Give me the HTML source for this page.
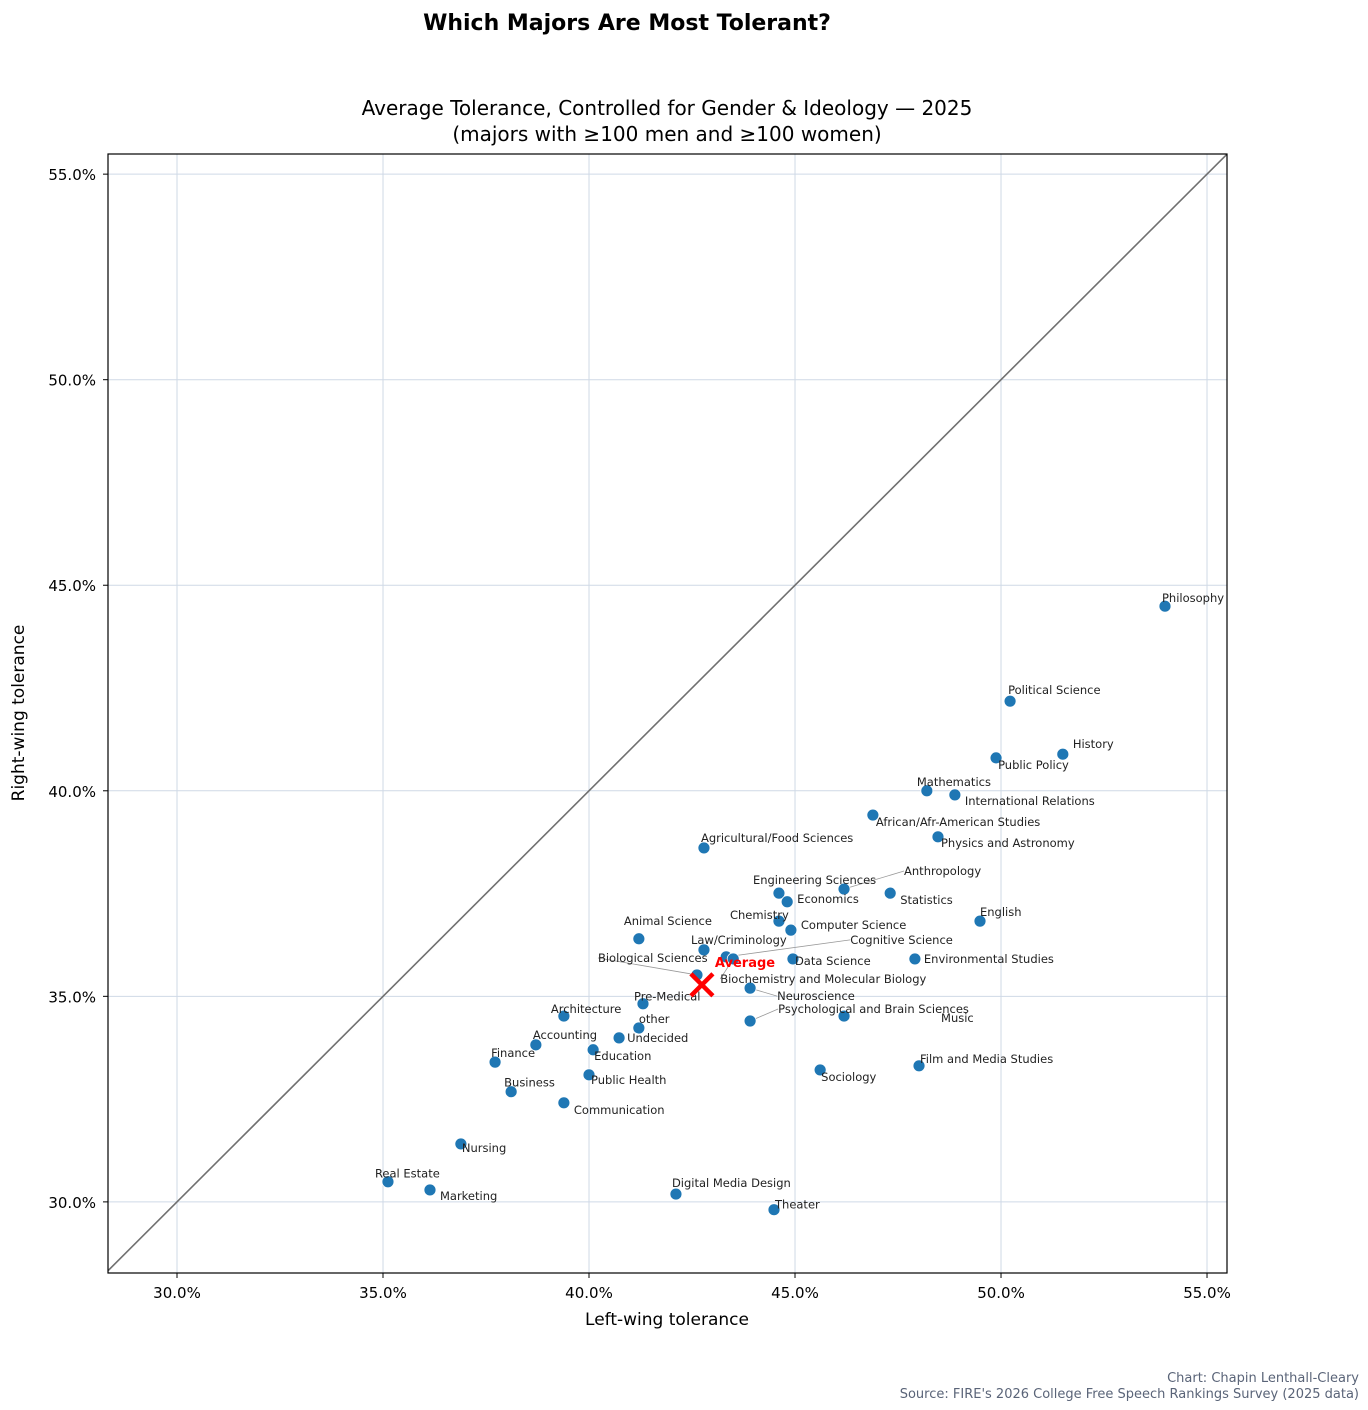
<!DOCTYPE html>
<html><head><meta charset="utf-8"><style>
body{margin:0;background:#fff;}
svg{display:block;font-family:"DejaVu Sans","Liberation Sans",sans-serif;}
</style></head><body>
<svg id="chart" width="1368" height="1410" viewBox="0 0 1368 1410">
<text x="627" y="30" text-anchor="middle" font-size="22" font-weight="bold">Which Majors Are Most Tolerant?</text>
<text x="667" y="115" text-anchor="middle" font-size="20">Average Tolerance, Controlled for Gender &amp; Ideology — 2025</text>
<text x="667" y="141" text-anchor="middle" font-size="20">(majors with ≥100 men and ≥100 women)</text>
<g id="grid"></g>
<g id="diag"></g>
<g id="leaders"></g>
<g id="points"></g>
<g id="labels"></g>
<rect x="108" y="154" width="1119" height="1119" fill="none" stroke="#000" stroke-width="1.2"/>
<g id="ticks"></g>
<text x="667" y="1325" text-anchor="middle" font-size="17">Left-wing tolerance</text>
<text x="24" y="713" text-anchor="middle" font-size="17" transform="rotate(-90 24 713)">Right-wing tolerance</text>
<text x="1359" y="1382" text-anchor="end" font-size="13" fill="#5a6478">Chart: Chapin Lenthall-Cleary</text>
<text x="1359" y="1398" text-anchor="end" font-size="13" fill="#5a6478">Source: FIRE's 2026 College Free Speech Rankings Survey (2025 data)</text>
</svg>
<script>
const majors=["Philosophy","Political Science","History","Public Policy","Mathematics","International Relations","African/Afr-American Studies","Physics and Astronomy","Agricultural/Food Sciences","Anthropology","Engineering Sciences","Statistics","Economics","English","Chemistry","Computer Science","Animal Science","Law/Criminology","Cognitive Science","Data Science","Environmental Studies","Biological Sciences","Biochemistry and Molecular Biology","Neuroscience","Pre-Medical","Psychological and Brain Sciences","Music","Architecture","other","Undecided","Accounting","Education","Finance","Film and Media Studies","Sociology","Public Health","Business","Communication","Nursing","Real Estate","Marketing","Digital Media Design","Theater"];
const leftTol=[53.98,50.22,51.50,49.88,48.20,48.88,46.89,48.47,42.79,46.19,44.61,47.31,44.81,49.49,44.61,44.90,41.21,42.79,43.33,44.95,47.91,42.62,43.50,43.91,41.31,43.91,46.19,39.39,41.21,40.73,38.71,40.10,37.72,48.01,45.61,40.00,38.11,39.39,36.89,35.12,36.14,42.11,44.49];
const rightTol=[44.49,42.18,40.89,40.80,40.00,39.90,39.41,38.88,38.61,37.61,37.51,37.51,37.30,36.83,36.83,36.61,36.40,36.13,35.96,35.91,35.91,35.52,35.91,35.20,34.82,34.40,34.52,34.52,34.23,33.99,33.82,33.70,33.40,33.31,33.21,33.09,32.68,32.41,31.41,30.49,30.29,30.19,29.81];
const avgPoint=[42.74,35.28];
const tickVals=[30,35,40,45,50,55];
const tickLabels=["30.0%","35.0%","40.0%","45.0%","50.0%","55.0%"];
// label layout offsets (px from point) and whether a leader line is drawn
const labelOff=[[-3,-8],[-2,-11],[10,-10],[2,7],[-10,-9],[10,6],[3,7],[3,6],[-3,-10],[60,-18],[-26,-13],[10,7],[10,-3],[0,-9],[-49,-6],[10,-5],[-15,-18],[-13,-10],[124,-17],[2,2],[9,0],[-99,-17],[-13,20],[27,8],[-9,-7],[28,-12],[97,2],[-13,-7],[0,-9],[8,0],[-3,-10],[1,6],[-4,-9],[1,-7],[1,7],[2,5],[-7,-9],[10,7],[1,4],[-13,-8],[10,6],[-4,-11],[1,-5]];
const leaderIdx=[9,18,21,22,23,25];
const svgNS="http://www.w3.org/2000/svg";
const X0=108,X1=1227,Y0=154,Y1=1273,DMIN=28.325,DMAX=55.485,RMIN=28.27,RMAX=55.49;
function sx(v){return X0+(v-DMIN)/(DMAX-DMIN)*(X1-X0);}
function sy(v){return Y1-(v-RMIN)/(RMAX-RMIN)*(Y1-Y0);}
function mk(tag,attrs,parent){const e=document.createElementNS(svgNS,tag);for(const k in attrs)e.setAttribute(k,attrs[k]);document.getElementById(parent).appendChild(e);return e;}
tickVals.forEach((v,i)=>{
  const gx=mk('line',{x1:sx(v),x2:sx(v),y1:Y0,y2:Y1,stroke:'#cfd9e6','stroke-width':1},'grid');
  
  
  const gy=mk('line',{x1:X0,x2:X1,y1:sy(v),y2:sy(v),stroke:'#cfd9e6','stroke-width':1},'grid');
  
  
  const tx=mk('line',{x1:sx(v),x2:sx(v),y1:Y1,y2:Y1+5,stroke:'#000'},'ticks');
  
  
  const ty=mk('line',{x1:X0-5,x2:X0,y1:sy(v),y2:sy(v),stroke:'#000'},'ticks');
  
  
  const lx=mk('text',{x:sx(v),y:Y1+25,'text-anchor':'middle','font-size':15},'ticks');lx.textContent=tickLabels[i];
  
  
  const ly=mk('text',{x:X0-12,y:sy(v)+6,'text-anchor':'end','font-size':15},'ticks');ly.textContent=tickLabels[i];
  
  
});
const dl=mk('line',{x1:sx(Math.max(DMIN,RMIN)),y1:sy(Math.max(DMIN,RMIN)),x2:sx(Math.min(DMAX,RMAX)),y2:sy(Math.min(DMAX,RMAX)),stroke:'#707070','stroke-width':1.6},'diag');


majors.forEach((m,i)=>{
  const px=sx(leftTol[i]),py=sy(rightTol[i]);
  const c=mk('circle',{cx:px,cy:py,r:6,fill:'#1f77b4',stroke:'#fff','stroke-width':0.8},'points');
  
  
  const o=labelOff[i];
  const t=mk('text',{x:px+o[0],y:py+o[1]+4,'font-size':11.5,fill:'#222'},'labels');
  t.textContent=m;
  
  
  if(leaderIdx.includes(i)){
    const l=mk('line',{x1:px,y1:py,x2:px+o[0],y2:py+o[1],stroke:'#999','stroke-width':0.8},'leaders');
    
    
  }
});
const ax=sx(avgPoint[0]),ay=sy(avgPoint[1]);
const xm=mk('path',{d:`M${ax-11} ${ay-11}L${ax+11} ${ay+11}M${ax+11} ${ay-11}L${ax-11} ${ay+11}`,stroke:'#ff0000','stroke-width':4.5},'labels');


const at=mk('text',{x:ax+13,y:ay-18,'font-size':13,'font-weight':'bold',fill:'#ff0000'},'labels');
at.textContent='Average';


</script>
</body></html>
